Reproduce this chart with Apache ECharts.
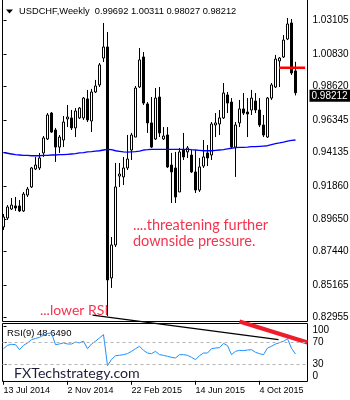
<!DOCTYPE html>
<html>
<head>
<meta charset="utf-8">
<script src="https://cdn.jsdelivr.net/npm/echarts@6/dist/echarts.min.js"></script>
<style>
  html, body { margin: 0; padding: 0; background: #fff; }
  #chart { width: 350px; height: 400px; }
</style>
</head>
<body>
<div id="chart"></div>
<script>
// USDCHF weekly candles, one entry per week starting 13 Jul 2014
const symbolName = 'USDCHF,Weekly';
const open = [0.8909,0.8970,0.9031,0.9052,0.9052,0.9018,0.9126,0.9181,0.9303,0.9310,0.9412,0.9507,0.9683,0.9568,0.9452,0.9500,0.9643,0.9650,0.9582,0.9650,0.9650,0.9779,0.9629,0.9826,0.9874,1.0057,1.0132,0.8563,0.8787,0.9255,0.9249,0.9310,0.9432,0.9520,0.9860,1.0064,0.9745,0.9616,0.9507,0.9792,0.9507,0.9534,0.9330,0.9310,0.9147,0.9432,0.9419,0.9398,0.9283,0.9160,0.9323,0.9412,0.9398,0.9602,0.9609,0.9650,0.9806,0.9758,0.9452,0.9616,0.9711,0.9690,0.9704,0.9765,0.9704,0.9602,0.9520,0.9785,0.9860,1.0037,1.0064,1.0186,1.0295,0.99692];
const close = [0.8977,0.9045,0.9058,0.9038,0.9018,0.9133,0.9167,0.9310,0.9330,0.9378,0.9514,0.9670,0.9554,0.9452,0.9520,0.9622,0.9656,0.9582,0.9697,0.9717,0.9785,0.9636,0.9826,0.9867,1.0010,1.0132,0.8549,0.8787,0.9181,0.9269,0.9310,0.9371,0.9534,0.9853,1.0044,0.9751,0.9616,0.9452,0.9785,0.9548,0.9527,0.9317,0.9283,0.9113,0.9419,0.9385,0.9446,0.9283,0.9160,0.9317,0.9385,0.9378,0.9609,0.9616,0.9650,0.9819,0.9751,0.9452,0.9602,0.9711,0.9683,0.9677,0.9785,0.9704,0.9602,0.9534,0.9785,0.9874,1.0050,1.0057,1.0179,1.0288,0.9955,0.98212];
const low = [0.8889,0.8957,0.9025,0.9018,0.9011,0.9011,0.9113,0.9174,0.9296,0.9296,0.9385,0.9500,0.9548,0.9351,0.9412,0.9452,0.9588,0.9568,0.9520,0.9643,0.9636,0.9622,0.9554,0.9819,0.9860,1.0030,0.8304,0.8495,0.8773,0.9181,0.9194,0.9296,0.9364,0.9520,0.9853,0.9738,0.9548,0.9446,0.9500,0.9520,0.9500,0.9310,0.9072,0.9072,0.9147,0.9364,0.9378,0.9276,0.9140,0.9147,0.9310,0.9323,0.9364,0.9520,0.9534,0.9643,0.9683,0.9446,0.9249,0.9588,0.9670,0.9520,0.9670,0.9683,0.9588,0.9520,0.9514,0.9772,0.9853,0.9860,1.0057,1.0179,0.9942,0.98027];
const high = [0.8997,0.9058,0.9106,0.9113,0.9092,0.9147,0.9181,0.9317,0.9385,0.9412,0.9527,0.9683,0.9690,0.9582,0.9534,0.9663,0.9738,0.9704,0.9717,0.9724,0.9792,0.9840,0.9847,0.9908,1.0023,1.0295,1.0234,0.8841,0.9344,0.9344,0.9385,0.9534,0.9548,0.9867,1.0125,1.0098,0.9758,0.9792,0.9853,0.9860,0.9588,0.9588,0.9412,0.9419,0.9446,0.9548,0.9459,0.9432,0.9432,0.9378,0.9500,0.9466,0.9622,0.9683,0.9704,0.9887,0.9826,0.9785,0.9622,0.9772,0.9819,0.9785,0.9840,0.9819,0.9785,0.9670,0.9792,0.9887,1.0078,1.0064,1.0213,1.0329,1.0322,1.00311];

// moving average drawn over the candles
const movingAverage = [0.9414,0.9410,0.9405,0.9400,0.9398,0.9396,0.9396,0.9393,0.9393,0.9393,0.9396,0.9396,0.9398,0.9398,0.9400,0.9400,0.9403,0.9405,0.9407,0.9412,0.9414,0.9419,0.9421,0.9425,0.9427,0.9432,0.9437,0.9434,0.9427,0.9423,0.9419,0.9417,0.9419,0.9421,0.9425,0.9432,0.9434,0.9437,0.9437,0.9437,0.9437,0.9437,0.9437,0.9437,0.9437,0.9437,0.9437,0.9434,0.9432,0.9430,0.9427,0.9427,0.9427,0.9430,0.9432,0.9434,0.9439,0.9444,0.9448,0.9450,0.9450,0.9452,0.9455,0.9455,0.9457,0.9459,0.9461,0.9468,0.9475,0.9480,0.9486,0.9493,0.9498,0.9500];

// RSI(9)
const rsi = [58.4,64.5,66.3,65.7,56.6,64.5,68.7,74.8,77,79,83,86,87,65.7,67,69,66.9,66.9,70.5,69,72,58.4,66.9,72,78,84,27.5,39,45.5,46.5,47.5,49.5,53.6,58.4,62.7,55.4,50.5,49.3,53.6,47.5,46.3,44.5,42.7,41.5,47.5,47.5,46.3,42.7,38.4,45.7,50.5,50.5,58.4,59.6,60.2,68.1,63.9,47.5,53.6,55.4,54.8,56,56.6,51.8,49.3,47.5,59.6,62.7,66.9,69.3,71.8,76.6,59,48.649];

// axis ticks
const priceTicks = [1.03105,1.00830,0.98620,0.96345,0.94135,0.91860,0.89650,0.87440,0.85165,0.82955];
const rsiTicks = [100,70,30,0];
const rsiLevels = [70,30];
const dateTickIndex = [0,16,32,48,64];
const dateTickLabels = ['13 Jul 2014','2 Nov 2014','22 Feb 2015','14 Jun 2015','4 Oct 2015'];

// drawn studies: horizontal level and two RSI trend lines ([week index, value])
const levelLine = [[68.9,0.9991],[75.4,0.9991]];
const rsiTrendBlack = [[22.25,119.6],[68.75,74.7]];
const rsiTrendRed = [[59,107.8],[76,69.6]];

const n = open.length;
const last = n - 1;
const candleData = open.map((o, i) => [i, o, close[i], low[i], high[i]]);
const maData = movingAverage.map((v, i) => [i, v]);
const rsiData = rsi.map((v, i) => [i, v]);

const FONT = 'Liberation Sans';
const NOTE_FONT = 'Lato';
const X_MIN = -0.25, X_MAX = 76;

const chart = echarts.init(document.getElementById('chart'), null, { renderer: 'canvas' });

chart.setOption({
  animation: false,
  backgroundColor: '#fff',
  grid: [
    { left: 2.5, top: -0.5, width: 305, height: 322, show: true, borderColor: '#000', borderWidth: 1, backgroundColor: 'transparent', outerBoundsMode: 'none', containLabel: false },
    { left: 2.5, top: 323.5, width: 305, height: 58, show: true, borderColor: '#000', borderWidth: 1, backgroundColor: 'transparent', outerBoundsMode: 'none', containLabel: false }
  ],
  xAxis: [
    { gridIndex: 0, type: 'value', min: X_MIN, max: X_MAX, show: false },
    {
      gridIndex: 1, type: 'value', min: X_MIN, max: X_MAX, position: 'bottom',
      axisLine: { show: false },
      splitLine: { show: false },
      axisTick: { show: true, customValues: dateTickIndex, length: 4, lineStyle: { color: '#000', width: 1 } },
      axisLabel: {
        customValues: dateTickIndex, hideOverlap: false,
        formatter: v => dateTickLabels[dateTickIndex.indexOf(v)] || '',
        align: 'left', margin: 5, fontSize: 9, fontFamily: FONT, color: '#000'
      }
    }
  ],
  yAxis: [
    {
      gridIndex: 0, type: 'value', position: 'right', min: 0.8267, max: 1.04545, scale: true,
      axisLine: { show: false },
      splitLine: { show: false },
      axisTick: { show: true, customValues: priceTicks, length: 3, lineStyle: { color: '#000' } },
      axisLabel: {
        customValues: priceTicks, hideOverlap: false,
        formatter: v => v.toFixed(5),
        margin: 5, fontSize: 10, fontFamily: FONT, color: '#000'
      }
    },
    {
      gridIndex: 1, type: 'value', position: 'right', min: -1.3, max: 104.2,
      axisLine: { show: false },
      splitLine: { show: false },
      axisTick: { show: true, customValues: rsiTicks, length: 3, lineStyle: { color: '#000' } },
      axisLabel: {
        customValues: rsiTicks, hideOverlap: false,
        margin: 5, fontSize: 10, fontFamily: FONT, color: '#000',
        formatter: v => v === 100 ? '{hi|100}' : (v === 0 ? '{lo|0}' : '{n|' + v + '}'),
        rich: {
          hi: { padding: [8, 0, 0, 0], fontSize: 10, fontFamily: FONT, color: '#000' },
          lo: { padding: [0, 0, 10, 0], fontSize: 10, fontFamily: FONT, color: '#000' },
          n: { fontSize: 10, fontFamily: FONT, color: '#000' }
        }
      }
    }
  ],
  series: [
    {
      type: 'candlestick',
      xAxisIndex: 0, yAxisIndex: 0,
      dimensions: ['week', 'open', 'close', 'lowest', 'highest'],
      encode: { x: 'week', y: ['open', 'close', 'lowest', 'highest'] },
      data: candleData,
      barWidth: 3,
      clip: true,
      itemStyle: { color: '#fff', color0: '#000', borderColor: '#000', borderColor0: '#000', borderWidth: 1 },
      markLine: {
        silent: true, symbol: ['none', 'none'],
        lineStyle: { color: 'rgba(0,0,0,0)', width: 0 },
        data: [{ yAxis: close[last] }],
        label: {
          show: true, position: 'end', distance: 2,
          formatter: () => close[last].toFixed(5),
          color: '#fff', backgroundColor: '#000', fontSize: 10, fontFamily: FONT,
          padding: [1, 3, 0, 2], lineHeight: 11
        }
      }
    },
    {
      type: 'line', xAxisIndex: 0, yAxisIndex: 0, data: maData,
      symbol: 'none', lineStyle: { color: '#0000ff', width: 1.3 }
    },
    {
      type: 'line', xAxisIndex: 0, yAxisIndex: 0, data: levelLine,
      symbol: 'none', lineStyle: { color: '#ff0000', width: 2.5 }
    },
    {
      type: 'line', xAxisIndex: 1, yAxisIndex: 1, data: rsiData,
      symbol: 'none', lineStyle: { color: '#1e90ff', width: 1 },
      markLine: {
        silent: true, symbol: ['none', 'none'],
        label: { show: false },
        lineStyle: { color: '#b4b4b4', type: [3, 3], width: 1 },
        data: rsiLevels.map(v => ({ yAxis: v }))
      }
    },
    {
      type: 'line', xAxisIndex: 1, yAxisIndex: 1, data: rsiTrendBlack, clip: false,
      symbol: 'none', lineStyle: { color: '#000', width: 1.2 }
    },
    {
      type: 'line', xAxisIndex: 1, yAxisIndex: 1, data: rsiTrendRed, clip: false,
      symbol: 'none', lineStyle: { color: '#ee1d2b', width: 4 }
    }
  ],
  graphic: [
    { type: 'polygon', shape: { points: [[6, 9.5], [13, 9.5], [9.5, 13.5]] }, style: { fill: '#000' } },
    {
      type: 'text', x: 19, y: 11.5,
      style: {
        text: symbolName + '  ' + [open[last], high[last], low[last], close[last]].map(v => v.toFixed(5)).join(' '),
        fill: '#000', fontSize: 9.3, fontFamily: FONT, verticalAlign: 'middle'
      }
    },
    {
      type: 'text', x: 7, y: 333,
      style: { text: 'RSI(9) ' + rsi[last].toFixed(4), fill: '#000', fontSize: 9.5, fontFamily: FONT, verticalAlign: 'middle' }
    },
    {
      type: 'text', x: 133, y: 225,
      style: { text: '....threatening further', fill: '#f5334f', fontSize: 14.5, fontFamily: NOTE_FONT, verticalAlign: 'middle' }
    },
    {
      type: 'text', x: 133, y: 241,
      style: { text: 'downside pressure.', fill: '#f5334f', fontSize: 14.5, fontFamily: NOTE_FONT, verticalAlign: 'middle' }
    },
    {
      type: 'text', x: 40, y: 310.5,
      style: { text: '...lower RSI', fill: '#f5334f', fontSize: 14, fontFamily: NOTE_FONT, verticalAlign: 'middle' }
    },
    {
      type: 'text', x: 14, y: 373,
      style: { text: 'FXTechstrategy.com', fill: '#1f1f3a', fontSize: 14.2, fontFamily: NOTE_FONT, verticalAlign: 'middle' }
    }
  ]
});
</script>
</body>
</html>
